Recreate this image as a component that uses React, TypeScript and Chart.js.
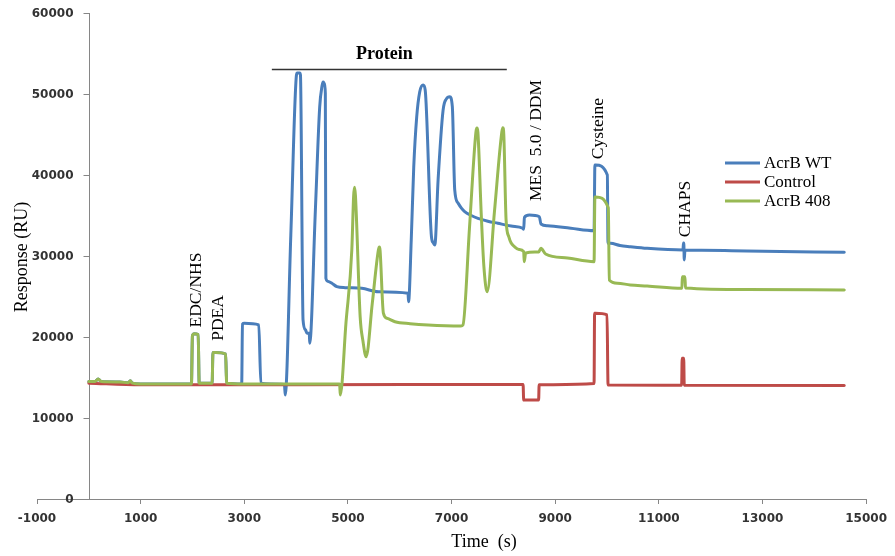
import React, { useEffect, useRef } from "react";
import { Chart, registerables } from "chart.js";

Chart.register(...registerables);

// Axis ticks
const xTicks = [-1000, 1000, 3000, 5000, 7000, 9000, 11000, 13000, 15000];
const yTicks = [0, 10000, 20000, 30000, 40000, 50000, 60000];

const seriesNames = ["AcrB WT", "Control", "AcrB 408"];
const seriesColors = ["#4A7EBB", "#BE4B48", "#98B954"];

// AcrB WT sensorgram: time (s) and response (RU)
const wtTime = [0, 120, 180, 240, 600, 760, 800, 840, 1000, 1980, 2000, 2030, 2110, 2130, 2380, 2395, 2450, 2640, 2660, 2950, 2965, 3000, 3280, 3320, 3500, 3775, 3790, 3898, 4007, 4022, 4070, 4084, 4134, 4180, 4211, 4255, 4262, 4372, 4455, 4500, 4522, 4545, 4564, 4575, 4620, 4691, 4787, 4948, 5267, 5588, 6160, 6170, 6222, 6270, 6327, 6385, 6452, 6491, 6612, 6650, 6677, 6740, 6836, 6900, 6965, 7015, 7061, 7125, 7190, 7253, 7380, 7509, 7700, 7893, 8150, 8373, 8392, 8406, 8502, 8694, 8725, 8853, 9301, 9750, 9766, 9781, 10006, 10019, 10069, 10250, 10453, 10774, 11466, 11475, 11482, 11490, 11504, 12695, 14578];
const wtResp = [14500, 14500, 14800, 14500, 14450, 14350, 14600, 14300, 14200, 14200, 20200, 20400, 20300, 14300, 14300, 18100, 18100, 17900, 14300, 14200, 21600, 21700, 21500, 14300, 14200, 14150, 12840, 32600, 52350, 52600, 52600, 52350, 22100, 20900, 20460, 20460, 19220, 35680, 48370, 51000, 51480, 51300, 50090, 27250, 26850, 26630, 26210, 26090, 26010, 25590, 25400, 24360, 31980, 40960, 47140, 50250, 51110, 50500, 32380, 31600, 31360, 39380, 47980, 49400, 49670, 48430, 38150, 36540, 35900, 35470, 35000, 34650, 34300, 34040, 33700, 33420, 33300, 34780, 35060, 34850, 33950, 33740, 33420, 33120, 41240, 41240, 40000, 31570, 31570, 31300, 31150, 30950, 30740, 31600, 31600, 29510, 30740, 30620, 30460];

// Control flow cell
const ctlTime = [0, 1000, 4000, 8380, 8392, 8680, 8690, 9750, 9760, 9781, 10000, 10020, 11440, 11450, 11480, 11490, 14578];
const ctlResp = [14300, 14100, 14100, 14150, 12220, 12220, 14100, 14250, 22920, 22920, 22720, 14070, 14050, 17370, 17370, 14050, 14000];

// AcrB 408 sensorgram
const mutTime = [0, 120, 180, 240, 600, 760, 800, 840, 1000, 1980, 2000, 2030, 2110, 2130, 2380, 2395, 2450, 2640, 2660, 3000, 4000, 4840, 4852, 4963, 5075, 5110, 5127, 5145, 5236, 5290, 5352, 5470, 5588, 5607, 5620, 5684, 5760, 5909, 6200, 6548, 7182, 7220, 7345, 7470, 7490, 7508, 7572, 7624, 7687, 7828, 7970, 7989, 8008, 8052, 8104, 8150, 8214, 8300, 8392, 8402, 8431, 8681, 8725, 8815, 9237, 9750, 9766, 9781, 10025, 10044, 10200, 10448, 10774, 11446, 11452, 11504, 11514, 12695, 14578];
const mutResp = [14500, 14500, 14800, 14500, 14450, 14350, 14600, 14300, 14200, 14200, 20200, 20400, 20300, 14300, 14300, 18100, 18100, 17900, 14300, 14200, 14200, 14200, 12840, 21800, 30740, 37400, 38500, 37500, 22510, 19500, 17570, 24150, 30740, 31110, 30740, 22960, 22300, 21890, 21650, 21480, 21360, 21480, 33390, 45300, 45800, 45300, 35270, 28680, 25590, 35500, 45300, 45840, 45000, 34450, 32380, 31600, 31150, 30800, 30530, 29300, 30370, 30500, 30950, 30250, 29750, 29300, 37290, 37290, 35930, 27040, 26650, 26420, 26300, 26010, 27440, 27440, 26050, 25860, 25800];

// Injection step labels
const eventLabels = ["EDC/NHS", "PDEA", "MES  5.0 / DDM", "Cysteine", "CHAPS"];
const proteinLabel = "Protein";
const xTitle = "Time  (s)";
const yTitle = "Response (RU)";

const toPoints = (xs: number[], ys: number[]) => xs.map((x, i) => ({ x, y: ys[i] }));

const SERIF = '"Liberation Serif", "Times New Roman", serif';
const SANS = '"DejaVu Sans", Verdana, sans-serif';
const AXIS_COLOR = "#868686";

function rotatedText(ctx: CanvasRenderingContext2D, text: string, cx: number, cy: number) {
  ctx.save();
  ctx.translate(cx, cy);
  ctx.rotate(-Math.PI / 2);
  ctx.textAlign = "center";
  ctx.textBaseline = "middle";
  ctx.fillText(text, 0, 0);
  ctx.restore();
}

// Vertical axis sits at t = 0, so it is drawn here rather than at the chart edge.
const axisAndNotes = {
  id: "axisAndNotes",
  beforeDatasetsDraw(chart: any) {
    const { ctx } = chart;
    const x = chart.scales.x;
    const y = chart.scales.y;
    const x0 = Math.round(x.getPixelForValue(0)) + 0.5;
    ctx.save();
    ctx.strokeStyle = AXIS_COLOR;
    ctx.lineWidth = 1;
    ctx.beginPath();
    ctx.moveTo(x0, y.getPixelForValue(yTicks[yTicks.length - 1]));
    ctx.lineTo(x0, y.getPixelForValue(0));
    ctx.stroke();
    ctx.font = "bold 12px " + SANS;
    ctx.fillStyle = "#333";
    ctx.textAlign = "right";
    ctx.textBaseline = "middle";
    yTicks.forEach((v) => {
      const py = Math.round(y.getPixelForValue(v)) + 0.5;
      ctx.beginPath();
      ctx.moveTo(x0 - 6, py);
      ctx.lineTo(x0, py);
      ctx.stroke();
      ctx.fillText(String(v), x0 - 16, py + 0.5);
    });
    ctx.restore();
  },
  afterDatasetsDraw(chart: any) {
    const { ctx } = chart;
    const x = chart.scales.x;
    const y = chart.scales.y;
    ctx.save();
    ctx.fillStyle = "#000";

    // axis titles
    ctx.font = "18px " + SERIF;
    rotatedText(ctx, yTitle, 22, 257);
    ctx.textAlign = "center";
    ctx.textBaseline = "middle";
    ctx.fillText(xTitle, 484, 542);

    // injection labels, anchored to time / response
    const spots: [number, number][] = [
      [2073, 25800],
      [2505, 22350],
      [8642, 44260],
      [9843, 45740],
      [11514, 35800],
    ];
    ctx.font = "17.5px " + SERIF;
    eventLabels.forEach((label, i) => {
      rotatedText(ctx, label, x.getPixelForValue(spots[i][0]), y.getPixelForValue(spots[i][1]));
    });

    // protein injection bar
    const barY = Math.round(y.getPixelForValue(53090)) + 0.5;
    ctx.strokeStyle = "#333";
    ctx.lineWidth = 1.3;
    ctx.beginPath();
    ctx.moveTo(x.getPixelForValue(3532), barY);
    ctx.lineTo(x.getPixelForValue(8066), barY);
    ctx.stroke();
    ctx.font = "bold 18px " + SERIF;
    ctx.textAlign = "center";
    ctx.textBaseline = "middle";
    ctx.fillText(proteinLabel, x.getPixelForValue(5703), y.getPixelForValue(54940));

    // legend
    ctx.font = "17px " + SERIF;
    ctx.textAlign = "left";
    ctx.textBaseline = "middle";
    seriesNames.forEach((name, i) => {
      const ly = 163 + i * 19;
      ctx.strokeStyle = seriesColors[i];
      ctx.lineWidth = 3;
      ctx.beginPath();
      ctx.moveTo(725, ly);
      ctx.lineTo(760, ly);
      ctx.stroke();
      ctx.fillStyle = "#000";
      ctx.fillText(name, 764, ly + 1);
    });
    ctx.restore();
  },
};

export default function App() {
  const canvasRef = useRef<HTMLCanvasElement | null>(null);

  useEffect(() => {
    const canvas = canvasRef.current;
    if (!canvas) return;
    const times = [wtTime, ctlTime, mutTime];
    const resps = [wtResp, ctlResp, mutResp];
    const drawOrder = [2, 1, 0];
    const chart = new Chart(canvas, {
      type: "line",
      data: {
        datasets: seriesNames.map((name, i) => ({
          label: name,
          data: toPoints(times[i], resps[i]),
          borderColor: seriesColors[i],
          backgroundColor: seriesColors[i],
          borderWidth: 3,
          borderJoinStyle: "round" as const,
          borderCapStyle: "round" as const,
          pointRadius: 0,
          fill: false,
          cubicInterpolationMode: "monotone" as const,
          order: drawOrder[i],
        })),
      },
      options: {
        responsive: false,
        animation: false,
        events: [],
        layout: { padding: { left: 37, right: 25, top: 13, bottom: 0 } },
        plugins: {
          legend: { display: false },
          tooltip: { enabled: false },
          title: { display: false },
        },
        scales: {
          x: {
            type: "linear",
            min: -1000,
            max: 15000,
            afterBuildTicks: (scale: any) => {
              scale.ticks = xTicks.map((v) => ({ value: v }));
            },
            afterFit: (scale: any) => {
              scale.height = 57;
            },
            grid: {
              drawOnChartArea: false,
              drawTicks: true,
              tickLength: 5,
              color: AXIS_COLOR,
            },
            border: { display: true, color: AXIS_COLOR, width: 1 },
            ticks: {
              padding: 8,
              autoSkip: false,
              maxRotation: 0,
              color: "#333",
              font: { family: SANS, size: 12, weight: "bold" },
              callback: (v: any) => String(v),
            },
          },
          y: {
            type: "linear",
            display: false,
            min: 0,
            max: 60000,
            afterBuildTicks: (scale: any) => {
              scale.ticks = yTicks.map((v) => ({ value: v }));
            },
          },
        },
      },
      plugins: [axisAndNotes],
    });
    return () => chart.destroy();
  }, []);

  return (
    <div style={{ position: "absolute", left: 0, top: 0, width: 895, height: 556, background: "#fff" }}>
      <canvas ref={canvasRef} width={895} height={556} style={{ width: 895, height: 556, display: "block" }} />
    </div>
  );
}
